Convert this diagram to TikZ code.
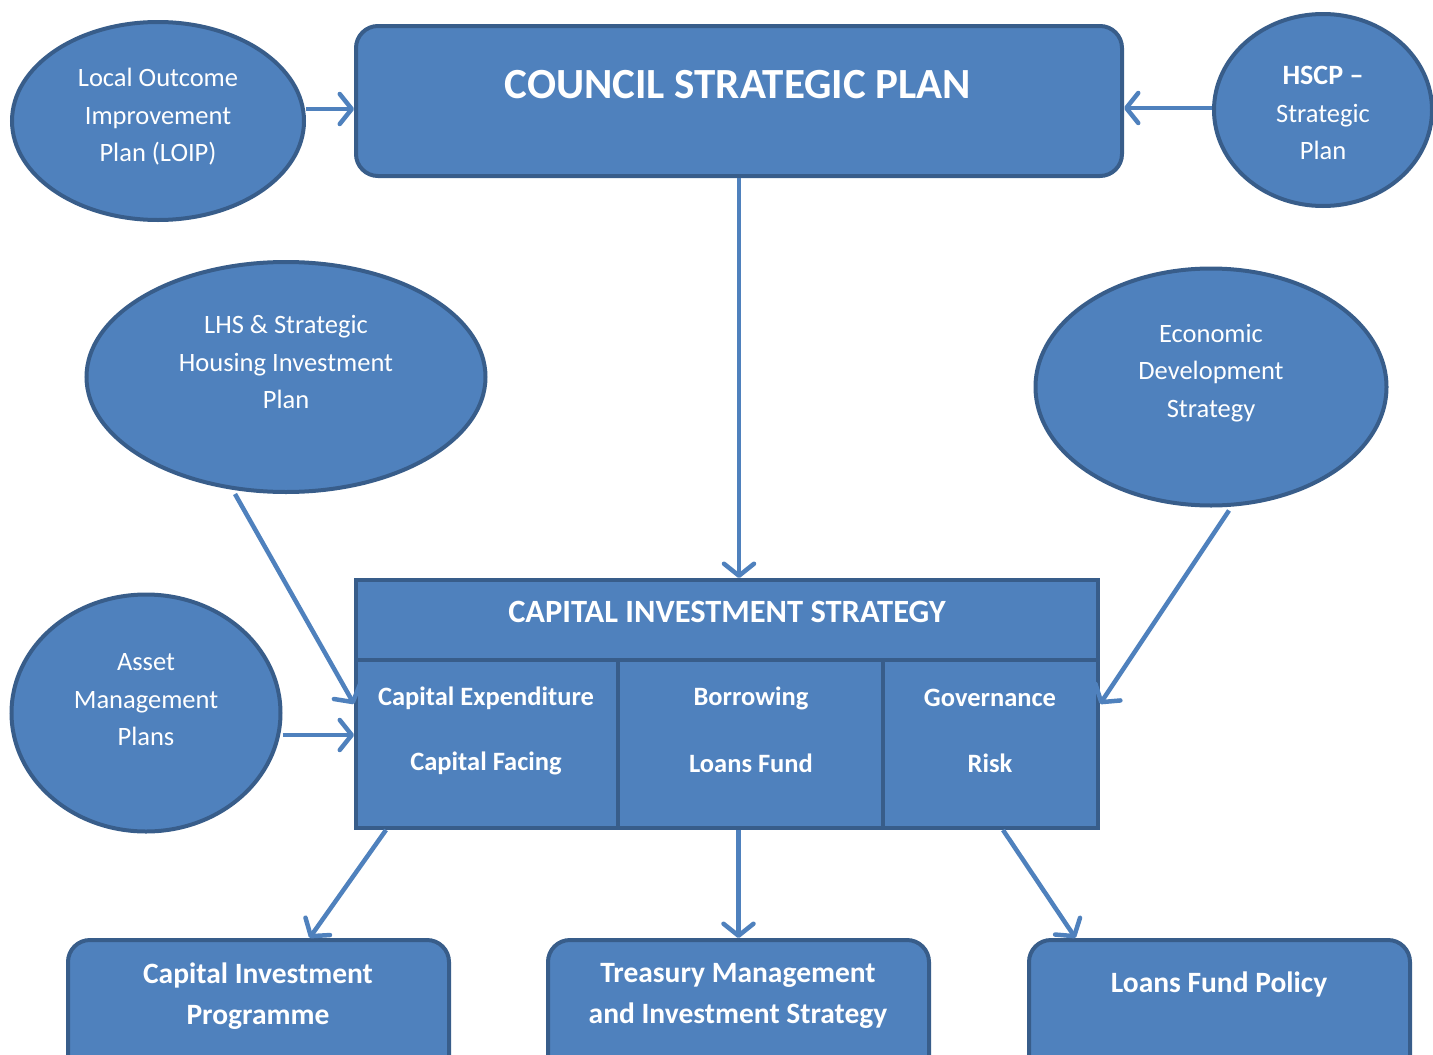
\documentclass[tikz,border=0pt]{standalone}
\usepackage{fontspec}
\setmainfont{Carlito}
\usetikzlibrary{arrows.meta,calc,shapes.geometric}
\definecolor{boxfill}{HTML}{4F81BD}
\definecolor{boxline}{HTML}{385D8A}
\tikzset{
  oval/.style={ellipse, draw=boxline, fill=boxfill, line width=4pt, inner sep=0pt},
  rbox/.style={rectangle, rounded corners=22pt, draw=boxline, fill=boxfill, line width=4pt, inner sep=0pt},
  tbox/.style={rectangle, draw=boxline, fill=boxfill, line width=4pt, inner sep=0pt},
  otext/.style={text=white, align=center, font=\fontsize{26.5}{37.5}\selectfont},
  btext/.style={text=white, align=center, font=\fontsize{29.5}{41}\selectfont\bfseries},
  ctext/.style={text=white, align=center, font=\fontsize{26.5}{30}\selectfont\bfseries},
  arr/.style={draw=boxfill, line width=4.5pt, -{Straight Barb[length=12pt,width=30pt,line cap=round,line join=round]}},
}
\begin{document}
\begin{tikzpicture}[x=1pt,y=-1pt]
\useasboundingbox (0,0) rectangle (1433,1055);
\clip (0,0) rectangle (1433,1055);
% ellipses
\node[oval, minimum width=292pt, minimum height=198pt] (loip) at (158,121) {};
\node[oval, minimum width=218pt, minimum height=192pt] (hscp) at (1323,110) {};
\node[oval, minimum width=399pt, minimum height=230pt] (lhs) at (286,377) {};
\node[oval, minimum width=351pt, minimum height=237pt] (eds) at (1211,387) {};
\node[oval, minimum width=269pt, minimum height=237pt] (amp) at (146,713) {};
% texts of ellipses
\node[otext] (loipt) at (158,117) {Local Outcome\\Improvement\\Plan (LOIP)};
\node[otext] (hscpt) at (1323,113) {\textbf{\fontsize{28}{37.5}\selectfont HSCP --}\\Strategic\\Plan};
\node[otext] (lhst) at (286,362) {LHS \& Strategic\\Housing Investment\\Plan};
\node[otext] (edst) at (1211,373) {Economic\\Development\\Strategy};
\node[otext] (ampt) at (146,700) {Asset\\Management\\Plans};
% council strategic plan
\node[rbox, minimum width=766pt, minimum height=150pt] (csp) at (739,101) {};
\node[text=white, font=\fontsize{43}{45}\selectfont\bfseries] (cspt) at (738,85) {COUNCIL STRATEGIC PLAN};
% capital investment strategy table
\node[tbox, minimum width=742pt, minimum height=248pt] (cis) at (727,704) {};
\draw[boxline, line width=4pt] (356,660) coordinate (hl) -- (1098,660) coordinate (hr);
\draw[boxline, line width=4pt] (618,660) coordinate (v1t) -- (618,828) coordinate (v1b);
\draw[boxline, line width=4pt] (883,660) coordinate (v2t) -- (883,828) coordinate (v2b);
\node[text=white, font=\fontsize{32.5}{34}\selectfont\bfseries] (cist) at (727,612) {CAPITAL INVESTMENT STRATEGY};
\node[ctext] (c11) at (486,698) {Capital Expenditure};
\node[ctext] (c12) at (486,763) {Capital Facing};
\node[ctext] (c21) at (751,698) {Borrowing};
\node[ctext] (c22) at (751,763) {Loans Fund};
\node[ctext] (c31) at (990,698) {Governance};
\node[ctext] (c32) at (990,763) {Risk};
% bottom boxes
\node[rbox, minimum width=381pt, minimum height=160pt] (cip) at (258.5,1020) {};
\node[rbox, minimum width=381pt, minimum height=160pt] (tms) at (738.5,1020) {};
\node[rbox, minimum width=381pt, minimum height=160pt] (lfp) at (1219.5,1020) {};
\node[btext] (cipt) at (258,996) {Capital Investment\\Programme};
\node[btext] (tmst) at (738,996) {Treasury Management\\and Investment Strategy};
\node[btext] (lfpt) at (1219,984) {Loans Fund Policy};
% connectors
\draw[arr] (loip.east |- 0,109) -- (csp.west |- 0,109);
\draw[arr] (hscp.west |- 0,108) -- (csp.east |- 0,108);
\draw[arr] (csp.south) -- (csp.south |- cis.north);
\draw[arr] ($(lhs.south)+(-51,0)$) -- (cis.west);
\draw[arr] ($(eds.south)+(18,3)$) -- (cis.east);
\draw[arr] (amp.east |- 0,735) -- (cis.west |- 0,735);
\draw[arr] (386,830) -- ($(cip.north)+(51,0)$);
\draw[arr] (tms.north |- cis.south) -- (tms.north);
\draw[arr] (1003,830) -- ($(lfp.north)+(-144,0)$);
\end{tikzpicture}
\end{document}
